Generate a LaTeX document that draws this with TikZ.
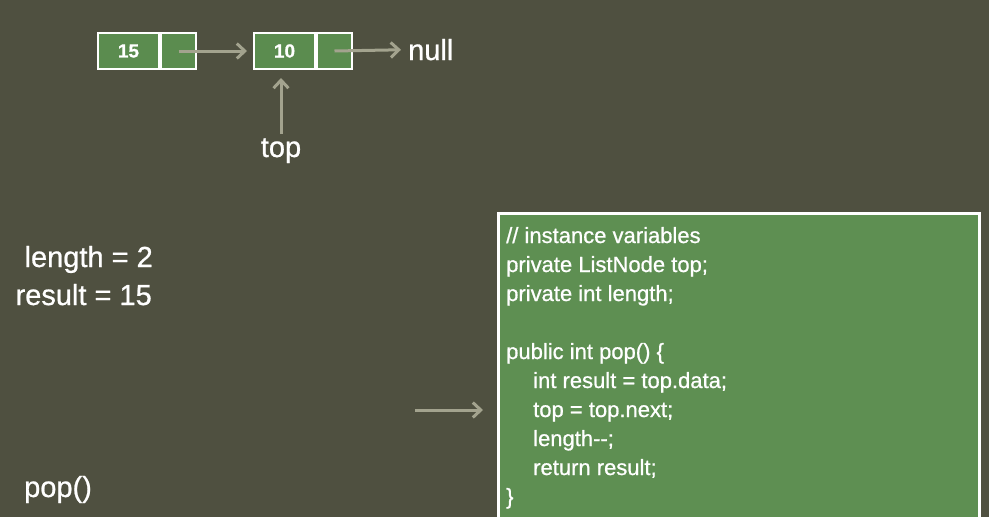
\documentclass[tikz,border=0pt]{standalone}
\usepackage{fontspec}
\setmainfont{Liberation Sans}[FakeBold=0.8]
\usetikzlibrary{arrows.meta,positioning}

\definecolor{slate}{RGB}{79,80,64}
\definecolor{cellgreen}{RGB}{91,140,79}
\definecolor{codegreen}{RGB}{94,143,82}
\definecolor{ptrgray}{RGB}{163,163,142}

\tikzset{
  cell/.style={draw=white, line width=2pt, fill=cellgreen, minimum height=36pt,
    inner sep=0pt, text=white, font=\fontsize{19}{19}\selectfont\bfseries},
  ptr/.style={draw=ptrgray, line width=3pt, -{Straight Barb[length=8pt,width=15pt]}},
  lbl/.style={text=white, inner sep=0pt, font=\fontsize{29}{29}\selectfont},
  code/.style={text=white, inner sep=0pt, anchor=base west, font=\fontsize{22}{22}\selectfont}
}

\begin{document}
\begin{tikzpicture}[x=1pt,y=-1pt]
  %background
  \fill[slate] (0,0) rectangle (989,517);
  \useasboundingbox (0,0) rectangle (989,517);

  %draw list nodes
  \node[cell, minimum width=61pt, anchor=north west] (d15) at (97,32) {15};
  \node[cell, minimum width=35pt, right=0pt of d15] (n15) {};
  \node[cell, minimum width=61pt, anchor=north west] (d10) at (253,32) {10};
  \node[cell, minimum width=35pt, right=0pt of d10] (n10) {};
  \node[lbl, anchor=base west] (null) at (408,60) {null};
  \node[lbl, anchor=base] (top) at (281,157) {top};

  %draw pointers
  \draw[ptr, shorten >=6pt] (n15.center) -- (d10.west);
  \draw[ptr, shorten >=7pt] (n10.center) -- (null.west);
  \draw[ptr, shorten <=4pt, shorten >=8pt] (top.north) -- (top.north |- d10.south);

  %draw variables
  \node[lbl, anchor=base east] (len) at (153,267) {length = 2};
  \node[lbl, anchor=base east] (res) at (152,305) {result = 15};
  \node[lbl, anchor=base west] (call) at (24,497) {pop()};

  %draw code
  \node[draw=white, line width=3pt, fill=codegreen, minimum width=481pt,
    minimum height=315pt, anchor=north west] (codebox) at (497,212) {};
  \node[code] (c1) at (506,243) {// instance variables};
  \node[code] (c2) at (506,272) {private ListNode top;};
  \node[code] (c3) at (506,301) {private int length;};
  \node[code] (c4) at (506,359) {public int pop() \{};
  \node[code] (c5) at (533,388) {int result = top.data;};
  \node[code] (c6) at (533,417) {top = top.next;};
  \node[code] (c7) at (533,446) {length\mbox{-}\mbox{-};};
  \node[code] (c8) at (533,475) {return result;};
  \node[code] (c9) at (506,504) {\}};

  %draw current line
  \coordinate (cur) at (415,410);
  \draw[ptr, shorten >=14pt] (cur) -- (cur -| codebox.west);
\end{tikzpicture}
\end{document}
